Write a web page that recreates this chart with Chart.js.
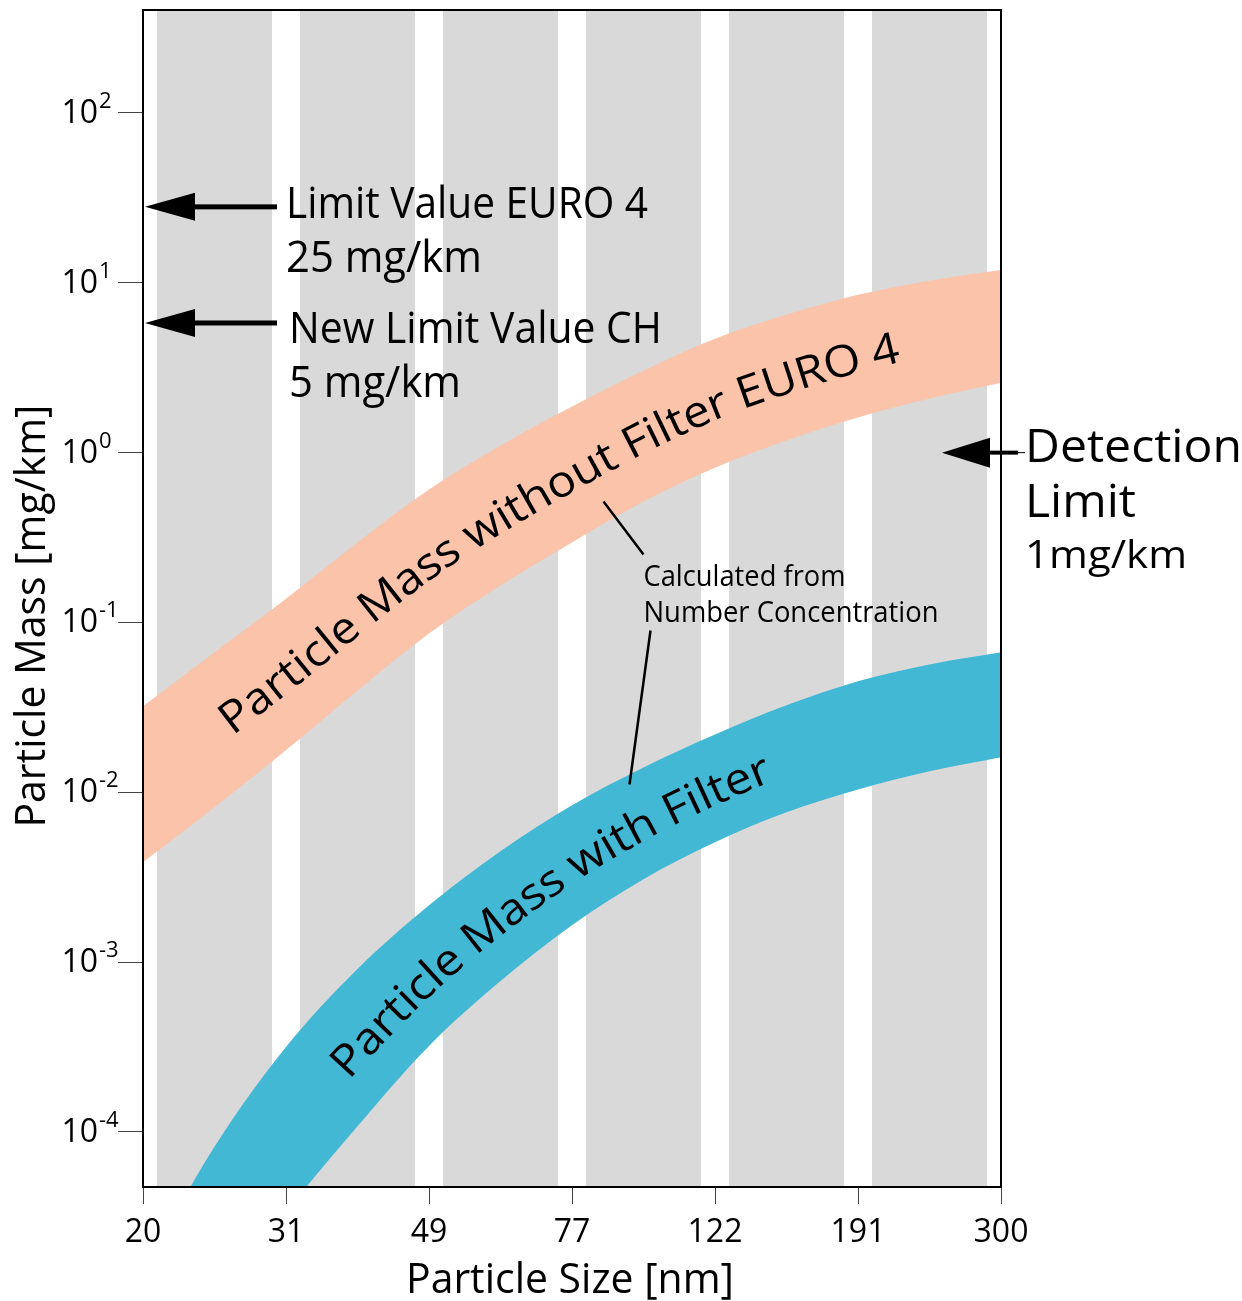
<!DOCTYPE html>
<html>
<head>
<meta charset="utf-8">
<script src="https://cdn.jsdelivr.net/npm/chart.js@4.4.1/dist/chart.umd.min.js"></script>
<style>
  html, body { margin: 0; padding: 0; background: #fff; }
  #wrap { width: 1242px; height: 1301px; position: relative; }
</style>
</head>
<body>
<div id="wrap"><canvas id="chart"></canvas></div>
<script>
// size axis: ticks are evenly spaced, 0 = 20 nm ... 6 = 300 nm
const sizeLabels = ["20", "31", "49", "77", "122", "191", "300"];
const samplePos = [0, 0.5, 1, 1.5, 2, 2.5, 3, 3.5, 4, 4.5, 5, 5.5, 6];

// band edges in mg/km, read at samplePos
const noFilterHigh = [0.0321, 0.0667, 0.138, 0.296, 0.606, 1.10, 1.87, 3.04, 4.69, 6.48, 8.5, 10.3, 11.9];
const noFilterLow = [0.00387, 0.00816, 0.0177, 0.0398, 0.0861, 0.165, 0.296, 0.515, 0.816, 1.18, 1.61, 2.08, 2.58];
const filterHigh = [1.52e-5, 8.17e-5, 3.16e-4, 9.1e-4, 2.16e-3, 4.5e-3, 8.39e-3, 0.014, 0.0219, 0.0325, 0.045, 0.0566, 0.0667];
const filterLow = [1.79e-6, 8.39e-6, 3.34e-5, 1.08e-4, 3.21e-4, 7.73e-4, 1.65e-3, 3.08e-3, 5.08e-3, 7.62e-3, 0.0104, 0.0133, 0.0161];

// mass axis
const massDecades = [1e-4, 1e-3, 1e-2, 1e-1, 1, 10, 100];
const massExponents = ["-4", "-3", "-2", "-1", "0", "1", "2"];
const massRange = [4.74e-5, 404];

// grey stripes, one between each pair of size ticks
const stripePos = [0.5, 1.5, 2.5, 3.5, 4.5, 5.5];

// limit arrows (where they point) and their captions
const limitLevels = [28, 5.8];
const limitText = [["Limit Value EURO 4", "25 mg/km"], ["New Limit Value CH", "5 mg/km"]];
const detectionLevel = 1;
const detectionText = ["Detection", "Limit", "1mg/km"];

const bandLabels = ["Particle Mass without Filter EURO 4", "Particle Mass with Filter"];
const noteText = ["Calculated from", "Number Concentration"];

const FONT = "'Open Sans', sans-serif";
const SALMON = "#fac3aa";
const BLUE = "#42b8d4";

const xy = (xs, ys) => xs.map((x, i) => ({ x, y: ys[i] }));

const band = (data, color, fill) => ({
  type: "line",
  data,
  borderWidth: 0,
  borderColor: "rgba(0,0,0,0)",
  backgroundColor: color,
  pointRadius: 0,
  cubicInterpolationMode: "monotone",
  capBezierPoints: false,
  fill,
  order: 1,
});

// text squeezed/stretched to a given width (Myriad is narrower than what we have)
function fitText(ctx, str, x, y, size, width) {
  ctx.save();
  ctx.font = size + "px " + FONT;
  const w = ctx.measureText(str).width;
  ctx.translate(x, y);
  ctx.scale(width / w, 1);
  ctx.textAlign = "left";
  ctx.textBaseline = "alphabetic";
  ctx.fillText(str, 0, 0);
  ctx.restore();
}

function arrow(ctx, tipX, y, headX, tailX, half, shaft) {
  ctx.beginPath();
  ctx.moveTo(tipX, y);
  ctx.lineTo(headX, y - half);
  ctx.lineTo(headX, y + half);
  ctx.closePath();
  ctx.fill();
  ctx.fillRect(headX - 1, y - shaft / 2, tailX - headX + 1, shaft);
}

// sample the drawn (monotone) curve of a line dataset
function curvePoints(meta) {
  const pts = meta.data;
  const out = [];
  for (let i = 0; i < pts.length - 1; i++) {
    const a = pts[i], b = pts[i + 1];
    const c1x = a.cp2x ?? a.x, c1y = a.cp2y ?? a.y;
    const c2x = b.cp1x ?? b.x, c2y = b.cp1y ?? b.y;
    for (let k = 0; k < 16; k++) {
      const t = k / 16, u = 1 - t;
      out.push({
        x: u * u * u * a.x + 3 * u * u * t * c1x + 3 * u * t * t * c2x + t * t * t * b.x,
        y: u * u * u * a.y + 3 * u * u * t * c1y + 3 * u * t * t * c2y + t * t * t * b.y,
      });
    }
  }
  const last = pts[pts.length - 1];
  out.push({ x: last.x, y: last.y });
  return out;
}

// label written along the middle of a band, from pixel x0 to x1
function textOnBand(ctx, upMeta, loMeta, str, x0, x1, size) {
  const up = curvePoints(upMeta), lo = curvePoints(loMeta);
  const c = up.map((p, i) => ({ x: (p.x + lo[i].x) / 2, y: (p.y + lo[i].y) / 2 }));
  const s = [0];
  for (let i = 1; i < c.length; i++) s.push(s[i - 1] + Math.hypot(c[i].x - c[i - 1].x, c[i].y - c[i - 1].y));
  const at = (d) => {
    let i = 1;
    while (i < c.length - 1 && s[i] < d) i++;
    const f = (d - s[i - 1]) / (s[i] - s[i - 1] || 1);
    return { x: c[i - 1].x + f * (c[i].x - c[i - 1].x), y: c[i - 1].y + f * (c[i].y - c[i - 1].y) };
  };
  const sAtX = (x) => {
    let i = 1;
    while (i < c.length - 1 && c[i].x < x) i++;
    const f = (x - c[i - 1].x) / (c[i].x - c[i - 1].x || 1);
    return s[i - 1] + f * (s[i] - s[i - 1]);
  };
  const s0 = sAtX(x0), s1 = sAtX(x1);
  ctx.save();
  ctx.font = size + "px " + FONT;
  ctx.textBaseline = "alphabetic";
  ctx.textAlign = "left";
  const total = ctx.measureText(str).width;
  const k = (s1 - s0) / total;
  let prev = 0;
  for (let i = 0; i < str.length; i++) {
    const next = ctx.measureText(str.slice(0, i + 1)).width;
    const cw = next - prev;
    const mid = s0 + (prev + cw / 2) * k;
    prev = next;
    if (str[i] === " ") continue;
    const p = at(mid), a = at(mid - 14), b = at(mid + 14);
    ctx.save();
    ctx.translate(p.x, p.y);
    ctx.rotate(Math.atan2(b.y - a.y, b.x - a.x));
    ctx.scale(k, 1);
    ctx.fillText(str[i], -cw / 2, size * 0.36);
    ctx.restore();
  }
  ctx.restore();
}

const annotations = {
  id: "annotations",
  afterDatasetsDraw(chart) {
    const { ctx, chartArea: area } = chart;
    const x = chart.scales.x, y = chart.scales.y;
    ctx.save();
    ctx.fillStyle = "#000";
    ctx.strokeStyle = "#000";

    // frame
    ctx.lineWidth = 2;
    ctx.strokeRect(area.left, area.top, area.right - area.left, area.bottom - area.top);

    // y tick labels 10^n
    massDecades.forEach((v, i) => {
      const py = y.getPixelForValue(v);
      ctx.font = "32px " + FONT;
      ctx.textAlign = "right";
      ctx.textBaseline = "alphabetic";
      ctx.fillText("10", area.left - 45, py + 10);
      ctx.font = "22px " + FONT;
      ctx.textAlign = "left";
      ctx.fillText(massExponents[i], area.left - 44, py - 5);
    });

    // axis titles
    ctx.save();
    ctx.translate(45, (area.top + area.bottom) / 2 + 18);
    ctx.rotate(-Math.PI / 2);
    fitText(ctx, "Particle Mass [mg/km]", -211, 0, 42, 423);
    ctx.restore();
    fitText(ctx, "Particle Size [nm]", (area.left + area.right) / 2 - 166, 1293, 42, 328);

    // limit value arrows
    const x1 = x.getPixelForValue(1);
    limitLevels.forEach((v, i) => {
      const py = y.getPixelForValue(v);
      arrow(ctx, area.left + 2, py, area.left + 52, x1 - 9, 14, 5);
      const tx = x1 + i * 3;
      fitText(ctx, limitText[i][0], tx, py + (i ? 20 : 11), 44, i ? 373 : 362);
      fitText(ctx, limitText[i][1], tx, py + (i ? 74 : 65), 44, i ? 172 : 196);
    });

    // detection limit arrow, sticking out of the right frame
    const dy = y.getPixelForValue(detectionLevel);
    arrow(ctx, area.right - 59, dy, area.right - 11, area.right + 17, 15, 4);
    ctx.fillRect(area.right, dy - 0.5, 24, 1);
    fitText(ctx, detectionText[0], area.right + 24, dy + 9, 46, 217);
    fitText(ctx, detectionText[1], area.right + 24, dy + 64, 46, 111);
    fitText(ctx, detectionText[2], area.right + 24, dy + 115, 38, 162);

    // labels along the bands
    const m = (i) => chart.getDatasetMeta(i);
    textOnBand(ctx, m(1), m(2), bandLabels[0], x.getPixelForValue(0.56), x.getPixelForValue(5.28), 44);
    textOnBand(ctx, m(3), m(4), bandLabels[1], x.getPixelForValue(1.36), x.getPixelForValue(4.37), 44);

    // note with its two leader lines
    const tx = x.getPixelForValue(3.5);
    const ty = y.getPixelForValue(0.1);
    fitText(ctx, noteText[0], tx, ty - 36, 29, 202);
    fitText(ctx, noteText[1], tx, ty, 29, 295);
    ctx.lineWidth = 2.5;
    ctx.beginPath();
    ctx.moveTo(tx - 40, ty - 121);
    ctx.lineTo(tx, ty - 68);
    ctx.moveTo(tx + 7, ty + 8);
    ctx.lineTo(tx - 14, ty + 162);
    ctx.stroke();

    ctx.restore();
  },
};

new Chart(document.getElementById("chart"), {
  data: {
    datasets: [
      {
        type: "bar",
        data: stripePos.map((p) => ({ x: p, y: massRange })),
        backgroundColor: "#d9d9d9",
        borderWidth: 0,
        barPercentage: 0.804,
        categoryPercentage: 1,
        order: 10,
      },
      band(xy(samplePos, noFilterHigh), SALMON, "+1"),
      band(xy(samplePos, noFilterLow), SALMON, false),
      band(xy(samplePos, filterHigh), BLUE, "+1"),
      band(xy(samplePos, filterLow), BLUE, false),
    ],
  },
  options: {
    responsive: true,
    maintainAspectRatio: false,
    animation: false,
    layout: { padding: { top: 10, right: 241, left: 0, bottom: 0 } },
    plugins: {
      legend: { display: false },
      tooltip: { enabled: false },
    },
    scales: {
      x: {
        type: "linear",
        min: 0,
        max: 6,
        offset: false,
        afterBuildTicks: (s) => { s.ticks = sizeLabels.map((_, i) => ({ value: i })); },
        afterFit: (s) => { s.height = 114; },
        ticks: {
          callback: (v) => sizeLabels[v],
          font: { family: FONT, size: 32 },
          color: "#000",
          padding: 10,
          maxRotation: 0,
          autoSkip: false,
        },
        grid: { offset: false, drawOnChartArea: false, tickLength: 17, color: "#444", lineWidth: 1 },
        border: { display: true, color: "#000", width: 2 },
      },
      y: {
        type: "logarithmic",
        min: massRange[0],
        max: massRange[1],
        afterBuildTicks: (s) => { s.ticks = massDecades.map((v) => ({ value: v })); },
        afterFit: (s) => { s.width = 143; },
        ticks: { display: false },
        grid: { drawOnChartArea: false, tickLength: 25, color: "#444", lineWidth: 1 },
        border: { display: true, color: "#000", width: 2 },
      },
    },
  },
  plugins: [annotations],
});
</script>
</body>
</html>
